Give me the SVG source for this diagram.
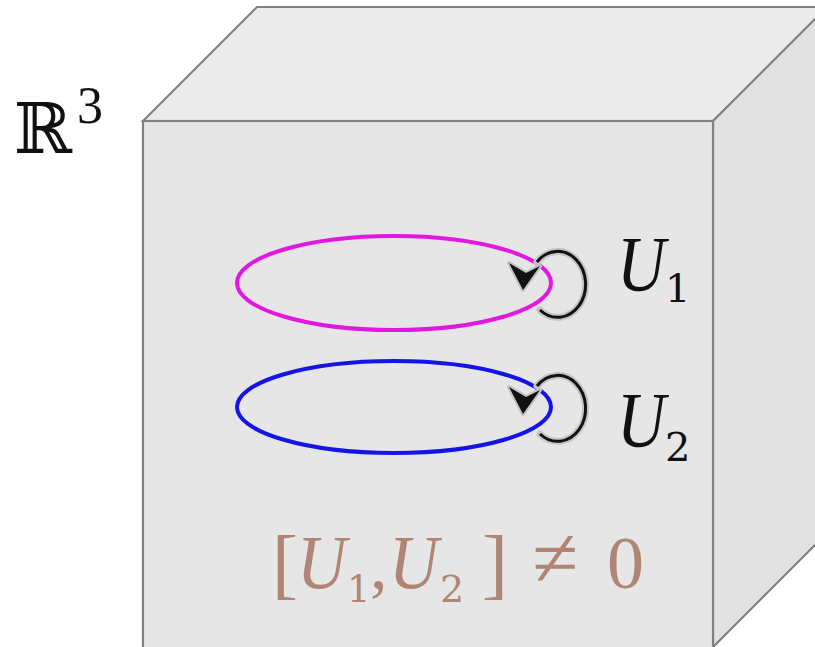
<svg xmlns="http://www.w3.org/2000/svg" width="815" height="647" viewBox="0 0 815 647">
<style>
.face{stroke:#808080;stroke-width:2.2;stroke-linejoin:miter}
.loop{fill:none;stroke-width:4}
.halo{fill:none;stroke:#c4c4c4;stroke-width:7;stroke-linecap:round}
.arc{fill:none;stroke:#111;stroke-width:3}
.it{font-family:"Liberation Serif",serif;font-style:italic}
.rm{font-family:"Liberation Serif",serif}
.dg{font-family:"DejaVu Serif",serif}
</style>
<defs>
<g id="rot">
<path class="halo" d="M540 310 A28 33 0 1 0 537 262"/>
<polygon points="523,290 509,263 526,273 540,266" fill="#c4c4c4" stroke="#c4c4c4" stroke-width="4" stroke-linejoin="round"/>
<path class="arc" d="M540 310 A28 33 0 1 0 537 262"/>
<polygon points="523,290 509,263 526,273 540,266" fill="#111"/>
</g>
</defs>
<rect width="815" height="647" fill="#ffffff"/>
<g id="cube">
<polygon class="face" points="143,121 257,7 830,7 713,121" fill="#ebebeb"/>
<polygon class="face" points="713,121 830,4 830,530 713,647" fill="#e1e1e1"/>
<rect class="face" x="143" y="121" width="570" height="540" fill="#e6e6e6"/>
</g>
<g id="space-label">
<text x="14" y="153" font-family="DejaVu Serif,serif" font-size="70" fill="#111">ℝ</text>
<text x="77" y="123" class="rm" font-size="52" fill="#111">3</text>
</g>
<g id="loop1">
<ellipse class="loop" cx="394" cy="283" rx="157" ry="47" stroke="#e018e0"/>
<use href="#rot"/>
<text transform="translate(617,290) scale(0.86,1)" class="it" font-size="78" fill="#111">U</text>
<text x="665" y="302" class="dg" font-size="40" fill="#111">1</text>
</g>
<g id="loop2">
<ellipse class="loop" cx="394" cy="407" rx="157" ry="46" stroke="#1414e6"/>
<use href="#rot" transform="translate(0,124)"/>
<text transform="translate(617,446) scale(0.86,1)" class="it" font-size="78" fill="#111">U</text>
<text x="665" y="461" class="dg" font-size="40" fill="#111">2</text>
</g>
<g id="commutator" fill="#b08575">
<text x="272" y="590" class="rm" font-size="78">[</text>
<text transform="translate(297,588) scale(0.9,1)" class="it" font-size="76">U</text>
<text x="347" y="602" class="dg" font-size="37">1</text>
<text x="370" y="588" class="rm" font-size="70">,</text>
<text transform="translate(389,588) scale(0.9,1)" class="it" font-size="76">U</text>
<text x="440" y="602" class="dg" font-size="38">2</text>
<text x="482" y="590" class="rm" font-size="78">]</text>
<text x="532" y="586" class="rm" font-size="84">≠</text>
<text x="607" y="588" class="rm" font-size="74">0</text>
</g>
</svg>
